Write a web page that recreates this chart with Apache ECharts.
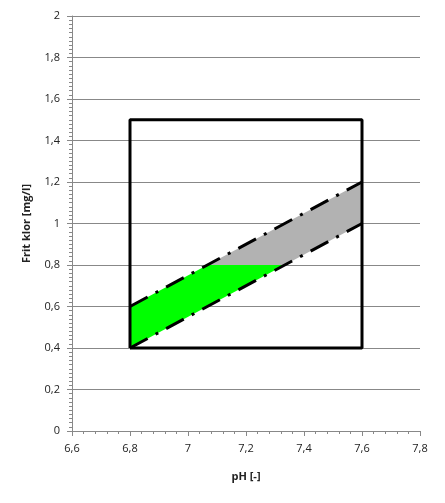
<!DOCTYPE html>
<html>
<head>
<meta charset="utf-8">
<script src="https://cdn.jsdelivr.net/npm/echarts@6/dist/echarts.min.js"></script>
<style>
  html, body { margin: 0; padding: 0; background: #fff; }
  #chart { width: 445px; height: 503px; }
</style>
</head>
<body>
<div id="chart"></div>
<script>
// target box (pH 6.8-7.6, free chlorine 0.4-1.5)
const boxX = [6.8, 6.8, 7.6, 7.6, 6.8];
const boxY = [0.4, 1.5, 1.5, 0.4, 0.4];

// dash-dot limit lines
const upperX = [6.8, 7.6];
const upperY = [0.6, 1.2];
const lowerX = [6.8, 7.6];
const lowerY = [0.4, 1.0];

// filled bands: green below 0.8, grey above
const greenX = [6.8, 7.067, 7.333, 6.8];
const greenY = [0.6, 0.8, 0.8, 0.4];
const greyX = [7.067, 7.6, 7.6, 7.333];
const greyY = [0.8, 1.2, 1.0, 0.8];

const zip = (xs, ys) => xs.map((x, i) => [x, ys[i]]);

const fmt = v => parseFloat(v.toFixed(1)).toString().replace('.', ',');

const chart = echarts.init(document.getElementById('chart'));

const polygon = (xs, ys, color) => ({
  type: 'custom',
  silent: true,
  z: 1,
  data: [0],
  renderItem: (params, api) => ({
    type: 'polygon',
    shape: { points: zip(xs, ys).map(p => api.coord(p)) },
    style: { fill: color }
  })
});

const line = (xs, ys, type, width) => ({
  type: 'line',
  data: zip(xs, ys),
  symbol: 'none',
  silent: true,
  z: 3,
  lineStyle: { color: '#000', width: width, type: type, cap: 'butt' }
});

chart.setOption({
  backgroundColor: '#fff',
  animation: false,
  textStyle: { fontFamily: 'Open Sans' },
  grid: { left: 72, right: 25, top: 16, bottom: 72 },
  xAxis: {
    type: 'value',
    min: 6.6,
    max: 7.8,
    interval: 0.2,
    name: 'pH [-]',
    nameLocation: 'middle',
    nameGap: 40,
    nameTextStyle: { fontWeight: 'bold', fontSize: 11, color: '#222' },
    axisLine: { lineStyle: { color: '#888' } },
    axisTick: { length: 5, lineStyle: { color: '#888' } },
    minorTick: { show: true, splitNumber: 5, length: 3, lineStyle: { color: '#888' } },
    splitLine: { show: false },
    axisLabel: { formatter: fmt, fontSize: 11, color: '#222', margin: 12 }
  },
  yAxis: {
    type: 'value',
    min: 0,
    max: 2,
    interval: 0.2,
    name: 'Frit klor [mg/l]',
    nameLocation: 'middle',
    nameGap: 40,
    nameTextStyle: { fontWeight: 'bold', fontSize: 11, color: '#222' },
    axisLine: { show: true, lineStyle: { color: '#888' } },
    axisTick: { show: true, length: 5, lineStyle: { color: '#888' } },
    minorTick: { show: true, splitNumber: 10, length: 3, lineStyle: { color: '#888' } },
    splitLine: { lineStyle: { color: '#888' } },
    axisLabel: { formatter: fmt, fontSize: 11, color: '#222', margin: 12 }
  },
  series: [
    polygon(greenX, greenY, '#00ff00'),
    polygon(greyX, greyY, '#b2b2b2'),
    line(upperX, upperY, [20, 9, 3, 9], 3),
    line(lowerX, lowerY, [20, 9, 3, 9], 3),
    line(boxX, boxY, 'solid', 3)
  ]
});
</script>
</body>
</html>
